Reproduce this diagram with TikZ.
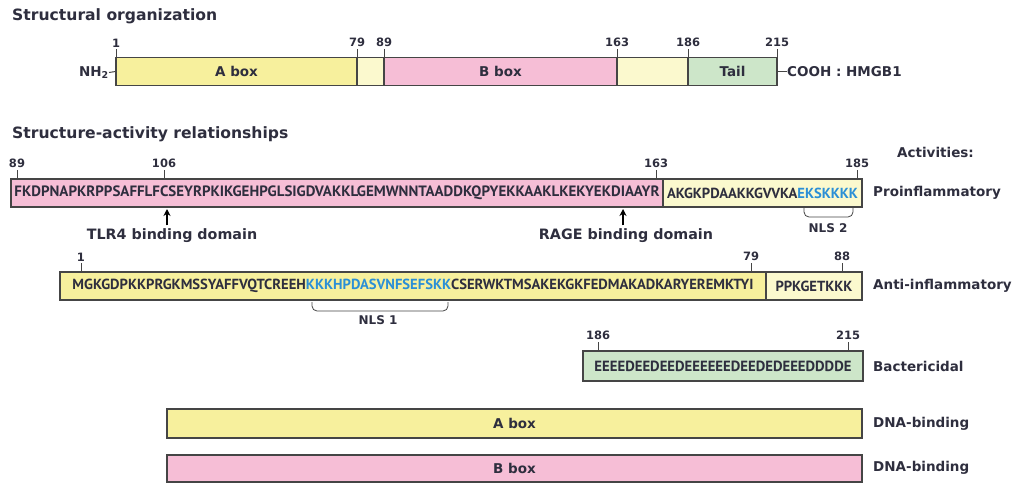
\documentclass[tikz,border=0pt]{standalone}
\usepackage{fontspec}
\setmainfont{DejaVu Sans}
\newfontfamily\seqfont{PT Sans}
\usetikzlibrary{arrows.meta,positioning}
\definecolor{aboxc}{HTML}{F7F09D}
\definecolor{linkc}{HTML}{FBF9CE}
\definecolor{bboxc}{HTML}{F6BED6}
\definecolor{tailc}{HTML}{CDE6C9}
\definecolor{nlsblue}{HTML}{2B8FD6}
\definecolor{inkc}{HTML}{2E2E3E}
\definecolor{edgec}{HTML}{454545}
\newcommand{\seqfit}[2]{\resizebox{#1}{!}{\seqfont\bfseries #2}}

\begin{document}
\begin{tikzpicture}[
    x=1pt,
    y=-1pt,
    >={Stealth[length=7pt,width=7pt]},
    every node/.style={text=inkc, font=\bfseries},
    seg/.style={draw=edgec, line width=1.2pt, inner sep=0pt, minimum height=28pt, font=\bfseries\fontsize{13.5}{15}\selectfont},
    title/.style={anchor=west, inner sep=0pt, font=\bfseries\fontsize{15.6}{18}\selectfont},
    num/.style={above, inner sep=1.5pt, font=\bfseries\fontsize{11.5}{13}\selectfont},
    lbl/.style={font=\bfseries\fontsize{14.3}{16}\selectfont},
    act/.style={anchor=west, inner sep=0pt, font=\bfseries\fontsize{13.5}{15}\selectfont},
    tick/.style={draw=edgec, line width=1pt},
    arr/.style={->, line width=1.5pt, draw=black},
    brace/.style={draw=edgec, line width=0.8pt, rounded corners=5pt}
]
\useasboundingbox (0,0) rectangle (1012,482);

% structural organization
\node[title] (orgtitle) at (12,16) {Structural organization};
\node[seg, fill=aboxc, minimum width=241pt] (abox) at (236.5,71.5) {A box};
\node[seg, fill=linkc, minimum width=27pt] (linka) at (370.5,71.5) {};
\node[seg, fill=bboxc, minimum width=233pt] (bbox) at (500.5,71.5) {B box};
\node[seg, fill=linkc, minimum width=71pt] (linkb) at (652.5,71.5) {};
\node[seg, fill=tailc, minimum width=89pt] (tail) at (732.5,71.5) {Tail};
\foreach \x/\n in {116/1, 357/79, 384/89, 617/163, 688/186, 777/215}
    \draw[tick] (\x,58) -- (\x,49) node[num] {\n};
\node[act, anchor=east] (nh) at (109,72.5) {NH\textsubscript{2}};
\node[act] (cooh) at (787,71.5) {COOH : HMGB1};
\draw[tick] (nh.east) -- (abox.west);
\draw[tick] (tail.east) -- (cooh.west);

% structure-activity relationships
\node[title] (sartitle) at (12,134) {Structure-activity relationships};
\node[act] (activ) at (897,152) {Activities:};

% proinflammatory
\node[seg, fill=bboxc, minimum width=652pt] (proa) at (337,193) {\seqfit{645pt}{FKDPNAPKRPPSAFFLFCSEYRPKIKGEHPGLSIGDVAKKLGEMWNNTAADDKQPYEKKAAKLKEKYEKDIAAYR}};
\node[seg, fill=linkc, minimum width=199pt] (prob) at (762.5,193) {\seqfit{191pt}{AKGKPDAAKKGVVKA\textcolor{nlsblue}{EKSKKKK}}};
\foreach \x/\n in {17/89, 164/106, 656/163, 857/185}
    \draw[tick] (\x,179) -- (\x,170) node[num] {\n};
\node[act] (proact) at (873,193) {Proinflammatory};
\node[lbl] (tlr) at (172,236) {TLR4 binding domain};
\node[lbl] (rage) at (626,236) {RAGE binding domain};
\coordinate (tlrtip) at (167,209);
\coordinate (ragetip) at (623,209);
\draw[arr] (tlr.north -| tlrtip) -- (tlrtip);
\draw[arr] (rage.north -| ragetip) -- (ragetip);
\node[lbl, font=\bfseries\fontsize{12}{14}\selectfont] (nls2) at (828,228) {NLS 2};
\coordinate (nls2l) at (804,207);
\coordinate (nls2r) at (853,207);
\draw[brace] (nls2l) -- ++(0,10) -| (nls2r);

% anti-inflammatory
\node[seg, fill=aboxc, minimum width=706pt] (antia) at (413,286) {\seqfit{681pt}{MGKGDPKKPRGKMSSYAFFVQTCREEH\textcolor{nlsblue}{KKKHPDASVNFSEFSKK}CSERWKTMSAKEKGKFEDMAKADKARYEREMKTYI}};
\node[seg, fill=linkc, minimum width=96pt] (antib) at (814,286) {\seqfit{77pt}{PPKGETKKK}};
\foreach \x/\n in {81/1, 751/79, 842/88}
    \draw[tick] (\x,272) -- (\x,263) node[num] {\n};
\node[act] (antiact) at (873,286) {Anti-inflammatory};
\node[lbl, font=\bfseries\fontsize{12}{14}\selectfont] (nls1) at (378,320) {NLS 1};
\coordinate (nls1l) at (312,302);
\coordinate (nls1r) at (448,302);
\draw[brace] (nls1l) -- ++(0,9) -| (nls1r);

% bactericidal
\node[seg, fill=tailc, minimum width=280pt, minimum height=30pt] (bact) at (723,366) {\seqfit{257pt}{EEEEDEEDEEDEEEEEEDEEDEDEEEDDDDE}};
\foreach \x/\n in {598/186, 848/215}
    \draw[tick] (\x,351) -- (\x,342) node[num] {\n};
\node[act] (bactact) at (873,366) {Bactericidal};

% DNA-binding
\node[seg, fill=aboxc, minimum width=695pt, minimum height=29pt] (dnaa) at (514.5,423.5) {A box};
\node[seg, fill=bboxc, minimum width=695pt, minimum height=27pt] (dnab) at (514.5,468.5) {B box};
\node[act] (dnaaact) at (873,424) {DNA-binding};
\node[act] (dnabact) at (873,468) {DNA-binding};
\end{tikzpicture}
\end{document}
